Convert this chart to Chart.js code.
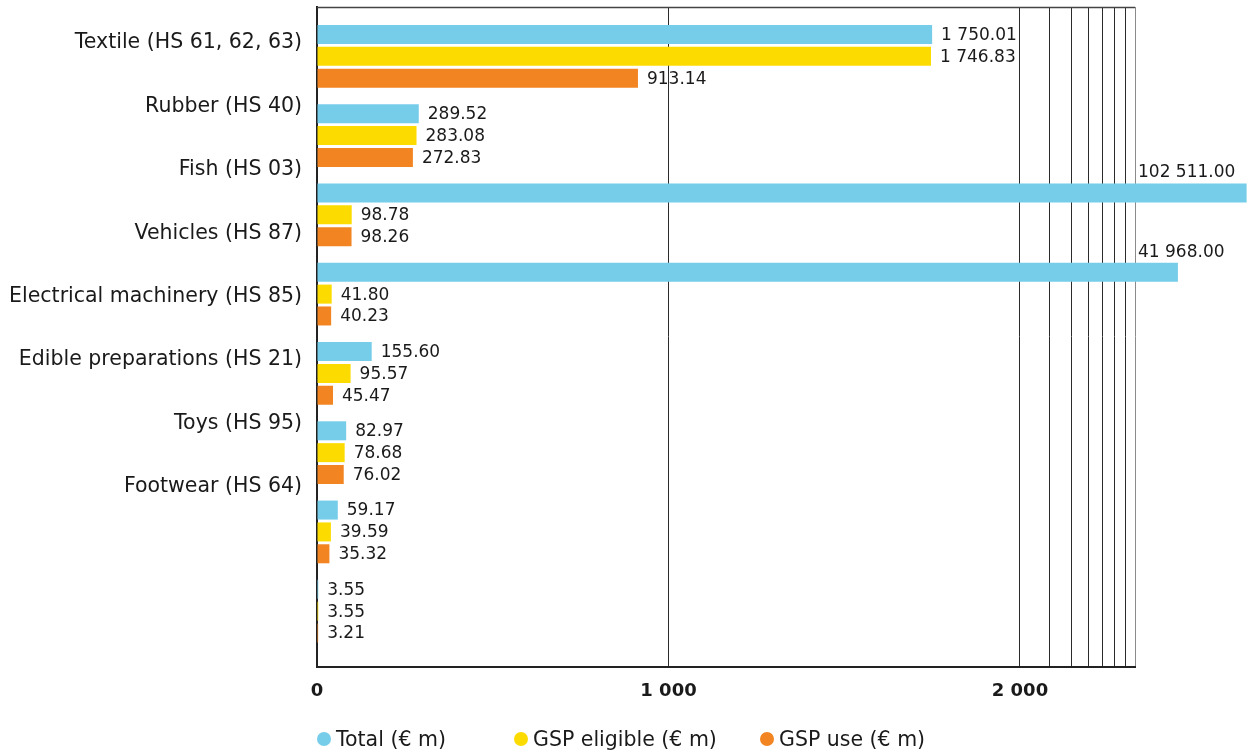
<!DOCTYPE html>
<html lang="en">
<head>
    <meta charset="UTF-8">
    <title>GSP imports by product group</title>
    <script src="https://cdn.jsdelivr.net/npm/chart.js"></script>
    <style>
        body { margin: 0; background: #fff; }
        .wrap { position: relative; width: 1249px; height: 751px; }
        .legend {
            position: absolute;
            left: 317px;
            top: 727px;
            display: grid;
            grid-template-columns: 197px 246px auto;
            font-family: "DejaVu Sans", sans-serif;
            font-size: 20.5px;
            line-height: 24px;
            color: #1a1a1a;
        }
        .legend span { display: flex; align-items: center; white-space: nowrap; }
        .legend i {
            display: inline-block;
            width: 14px;
            height: 14px;
            border-radius: 50%;
            margin-right: 5px;
        }
    </style>
</head>
<body>
    <div class="wrap">
        <canvas id="gspChart"></canvas>
        <div class="legend" id="legend"></div>
    </div>

    <script>
        const categories = [
            "Textile (HS 61, 62, 63)",
            "Rubber (HS 40)",
            "Fish (HS 03)",
            "Vehicles (HS 87)",
            "Electrical machinery (HS 85)",
            "Edible preparations (HS 21)",
            "Toys (HS 95)",
            "Footwear (HS 64)"
        ];
        const totalValues = [1750.01, 289.52, 102511.00, 41968.00, 155.60, 82.97, 59.17, 3.55];
        const eligibleValues = [1746.83, 283.08, 98.78, 41.80, 95.57, 78.68, 39.59, 3.55];
        const useValues = [913.14, 272.83, 98.26, 40.23, 45.47, 76.02, 35.32, 3.21];
        const seriesNames = ["Total (€ m)", "GSP eligible (€ m)", "GSP use (€ m)"];
        const seriesColors = ["#75cde9", "#fcdc00", "#f28522"];

        // x axis: linear up to 2 000, squeezed beyond it
        const xTickValues = [0, 1000, 2000, 5000, 8000, 11000, 14000, 17000, 20000, 23000];
        const xLabelledTicks = [0, 1000, 2000];
        const BREAK_AT = 2000;
        const BREAK_SPLIT = 0.8594;   // share of the width used by 0..2000
        const BREAK_SOFT = 7000;      // softness of the squeezed part
        const X_MAX = 23000;

        const FONT = "'DejaVu Sans', sans-serif";
        const INK = "#1a1a1a";

        function fmt(v, dec) {
            const parts = v.toFixed(dec).split(".");
            const whole = parts[0].replace(/\B(?=(\d{3})+(?!\d))/g, " ");
            return parts[1] ? whole + "." + parts[1] : whole;
        }

        class BrokenScale extends Chart.LinearScale {
            determineDataLimits() {
                super.determineDataLimits();
                this.min = 0;
                this.max = X_MAX;
            }
            buildTicks() {
                return xTickValues.map(v => ({ value: v }));
            }
            _tail(v) {
                return Math.log(1 + (v - BREAK_AT) / BREAK_SOFT) / Math.log(1 + (this.max - BREAK_AT) / BREAK_SOFT);
            }
            getPixelForValue(v) {
                const dec = v <= BREAK_AT
                    ? (v / BREAK_AT) * BREAK_SPLIT
                    : BREAK_SPLIT + (1 - BREAK_SPLIT) * this._tail(v);
                return this.getPixelForDecimal(dec);
            }
            getValueForPixel(p) {
                const dec = this.getDecimalForPixel(p);
                if (dec <= BREAK_SPLIT) return dec / BREAK_SPLIT * BREAK_AT;
                const k = (dec - BREAK_SPLIT) / (1 - BREAK_SPLIT);
                const full = Math.log(1 + (this.max - BREAK_AT) / BREAK_SOFT);
                return BREAK_AT + BREAK_SOFT * (Math.exp(k * full) - 1);
            }
        }
        BrokenScale.id = "broken";
        BrokenScale.defaults = Chart.LinearScale.defaults;
        Chart.register(BrokenScale);

        // value labels next to each bar; bars running past the frame get theirs above
        const valueLabels = {
            id: "valueLabels",
            afterDatasetsDraw(chart) {
                const ctx = chart.ctx;
                const area = chart.chartArea;
                ctx.save();
                ctx.font = "17px " + FONT;
                ctx.fillStyle = INK;
                ctx.textAlign = "left";
                ctx.textBaseline = "middle";
                chart.data.datasets.forEach((ds, di) => {
                    chart.getDatasetMeta(di).data.forEach((bar, i) => {
                        const text = fmt(ds.data[i], 2);
                        if (bar.x > area.right) {
                            ctx.fillText(text, area.right + 3, bar.y - 20);
                        } else {
                            ctx.fillText(text, bar.x + 9, bar.y + 1);
                        }
                    });
                });
                ctx.restore();
            }
        };

        // top edge of the frame
        const frameTop = {
            id: "frameTop",
            beforeDatasetsDraw(chart) {
                const { ctx, chartArea } = chart;
                ctx.save();
                ctx.strokeStyle = "#444";
                ctx.lineWidth = 1.5;
                ctx.beginPath();
                ctx.moveTo(chartArea.left, chartArea.top + 0.5);
                ctx.lineTo(chartArea.right, chartArea.top + 0.5);
                ctx.stroke();
                ctx.restore();
            }
        };

        function noEdgePadding(axis) {
            axis.paddingTop = 0;
            axis.paddingBottom = 0;
            axis.paddingLeft = 0;
            axis.paddingRight = 0;
        }

        Chart.defaults.font.family = FONT;
        Chart.defaults.color = INK;

        const seriesData = [totalValues, eligibleValues, useValues];

        const chart = new Chart(document.getElementById("gspChart"), {
            type: "bar",
            data: {
                labels: categories.map((c, i) => i),
                datasets: seriesData.map((values, s) => ({
                    label: seriesNames[s],
                    data: values,
                    backgroundColor: seriesColors[s],
                    borderWidth: 0,
                    clip: false,
                    xAxisID: "x",
                    yAxisID: "yb",
                    categoryPercentage: 0.827,
                    barPercentage: 0.87
                }))
            },
            options: {
                indexAxis: "y",
                responsive: true,
                maintainAspectRatio: false,
                animation: false,
                layout: { padding: { top: 7, bottom: 44, left: 0, right: 0 } },
                plugins: {
                    tooltip: { enabled: false },
                    legend: { display: false }
                },
                scales: {
                    x: {
                        type: "broken",
                        position: "bottom",
                        afterFit: axis => { axis.height = 40; noEdgePadding(axis); },
                        grid: {
                            drawTicks: false,
                            lineWidth: 1,
                            color: c => c.tick && c.tick.value === X_MAX ? "#8a8a8a" : "#2b2b2b"
                        },
                        border: { color: "#222", width: 2 },
                        ticks: {
                            autoSkip: false,
                            maxRotation: 0,
                            padding: 14,
                            color: INK,
                            font: { size: 18, weight: "bold" },
                            callback: v => xLabelledTicks.includes(v) ? fmt(v, 0) : ""
                        }
                    },
                    // bar positions: one unit per product group
                    yb: {
                        type: "linear",
                        position: "right",
                        reverse: true,
                        offset: false,
                        min: -0.622,
                        max: 7.704,
                        afterBuildTicks: axis => { axis.ticks = categories.map((c, i) => ({ value: i })); },
                        afterFit: axis => { axis.width = 114; noEdgePadding(axis); },
                        grid: { display: false, offset: false },
                        border: { display: false },
                        ticks: { display: false }
                    },
                    // product group names
                    yl: {
                        type: "linear",
                        position: "left",
                        reverse: true,
                        offset: false,
                        min: -0.568,
                        max: 9.842,
                        afterBuildTicks: axis => { axis.ticks = categories.map((c, i) => ({ value: i })); },
                        afterFit: axis => { axis.width = 317; noEdgePadding(axis); },
                        grid: { display: false, drawTicks: false, offset: false },
                        border: { color: "#222", width: 2 },
                        ticks: {
                            autoSkip: false,
                            padding: 15,
                            color: INK,
                            font: { size: 20.5 },
                            callback: v => categories[v]
                        }
                    }
                }
            },
            plugins: [frameTop, valueLabels]
        });

        // legend row under the axis
        const legendBox = document.getElementById("legend");
        chart.data.datasets.forEach(ds => {
            const item = document.createElement("span");
            const dot = document.createElement("i");
            dot.style.background = ds.backgroundColor;
            item.appendChild(dot);
            item.appendChild(document.createTextNode(ds.label));
            legendBox.appendChild(item);
        });
    </script>
</body>
</html>
